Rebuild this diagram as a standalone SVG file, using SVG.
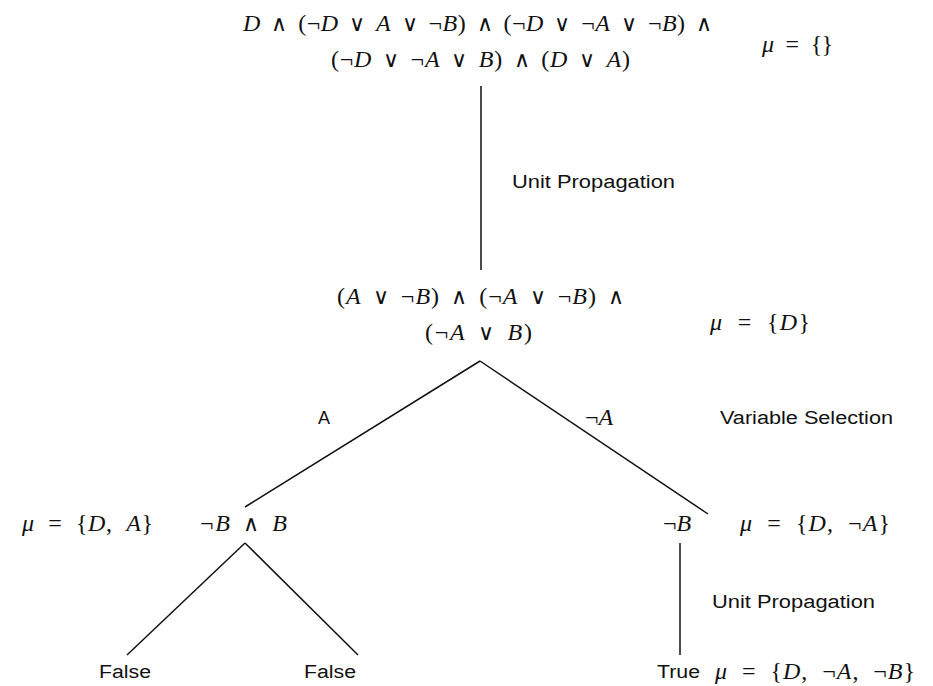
<svg xmlns="http://www.w3.org/2000/svg" width="933" height="686" viewBox="0 0 933 686">
<style>
.m{font-family:"Liberation Serif","Times New Roman",serif;font-size:24px;fill:#111;word-spacing:4px}
.mu{word-spacing:7px}
.v{font-style:italic}
.o{font-family:"DejaVu Sans",sans-serif;font-weight:200;font-size:22px}
.s{font-family:"Liberation Sans",Arial,sans-serif;font-size:18px;fill:#111}
.e line{stroke:#111;stroke-width:1.5}
</style>
<rect width="933" height="686" fill="#fff"/>
<g class="e" id="edges">
<line x1="481" y1="86" x2="481" y2="270"/>
<line x1="480" y1="361" x2="245" y2="507"/>
<line x1="480" y1="361" x2="708" y2="514"/>
<line x1="245" y1="543" x2="127" y2="655"/>
<line x1="245" y1="543" x2="358" y2="655"/>
<line x1="680" y1="543" x2="680" y2="655"/>
</g>
<g id="n0">
<text class="m" x="243" y="31" textLength="469" lengthAdjust="spacing"><tspan class="v">D</tspan> <tspan class="o">∧</tspan> (¬<tspan class="v">D</tspan> <tspan class="o">∨</tspan> <tspan class="v">A</tspan> <tspan class="o">∨</tspan> ¬<tspan class="v">B</tspan>) <tspan class="o">∧</tspan> (¬<tspan class="v">D</tspan> <tspan class="o">∨</tspan> ¬<tspan class="v">A</tspan> <tspan class="o">∨</tspan> ¬<tspan class="v">B</tspan>) <tspan class="o">∧</tspan></text>
<text class="m" x="331" y="67" textLength="299" lengthAdjust="spacing">(¬<tspan class="v">D</tspan> <tspan class="o">∨</tspan> ¬<tspan class="v">A</tspan> <tspan class="o">∨</tspan> <tspan class="v">B</tspan>) <tspan class="o">∧</tspan> (<tspan class="v">D</tspan> <tspan class="o">∨</tspan> <tspan class="v">A</tspan>)</text>
<text class="m mu" x="762" y="52" textLength="71" lengthAdjust="spacing"><tspan class="v">μ</tspan> = {}</text>
</g>
<g id="l1"><text class="s" x="512" y="188" textLength="163" lengthAdjust="spacingAndGlyphs">Unit Propagation</text></g>
<g id="n1">
<text class="m" x="337" y="304" textLength="287" lengthAdjust="spacing">(<tspan class="v">A</tspan> <tspan class="o">∨</tspan> ¬<tspan class="v">B</tspan>) <tspan class="o">∧</tspan> (¬<tspan class="v">A</tspan> <tspan class="o">∨</tspan> ¬<tspan class="v">B</tspan>) <tspan class="o">∧</tspan></text>
<text class="m" x="425" y="340" textLength="107" lengthAdjust="spacing">(¬<tspan class="v">A</tspan> <tspan class="o">∨</tspan> <tspan class="v">B</tspan>)</text>
<text class="m mu" x="710" y="330" textLength="100" lengthAdjust="spacing"><tspan class="v">μ</tspan> = {<tspan class="v">D</tspan>}</text>
</g>
<g id="l2">
<text class="s" x="318" y="424">A</text>
<text class="m" x="585" y="425">¬<tspan class="v">A</tspan></text>
<text class="s" x="720" y="424" textLength="173" lengthAdjust="spacingAndGlyphs">Variable Selection</text>
</g>
<g id="n2">
<text class="m mu" x="22" y="531" textLength="131" lengthAdjust="spacing"><tspan class="v">μ</tspan> = {<tspan class="v">D</tspan>, <tspan class="v">A</tspan>}</text>
<text class="m" x="200" y="531" textLength="87" lengthAdjust="spacing">¬<tspan class="v">B</tspan> <tspan class="o">∧</tspan> <tspan class="v">B</tspan></text>
</g>
<g id="n3">
<text class="m" x="663" y="531">¬<tspan class="v">B</tspan></text>
<text class="m mu" x="740" y="531" textLength="150" lengthAdjust="spacing"><tspan class="v">μ</tspan> = {<tspan class="v">D</tspan>, ¬<tspan class="v">A</tspan>}</text>
</g>
<g id="l3"><text class="s" x="712" y="608" textLength="163" lengthAdjust="spacingAndGlyphs">Unit Propagation</text></g>
<g id="n4"><text class="s" x="99" y="678" textLength="52" lengthAdjust="spacingAndGlyphs">False</text></g>
<g id="n5"><text class="s" x="304" y="678" textLength="52" lengthAdjust="spacingAndGlyphs">False</text></g>
<g id="n6">
<text class="s" x="657" y="678" textLength="43" lengthAdjust="spacingAndGlyphs">True</text>
<text class="m mu" x="715" y="679" textLength="200" lengthAdjust="spacing"><tspan class="v">μ</tspan> = {<tspan class="v">D</tspan>, ¬<tspan class="v">A</tspan>, ¬<tspan class="v">B</tspan>}</text>
</g>
</svg>
